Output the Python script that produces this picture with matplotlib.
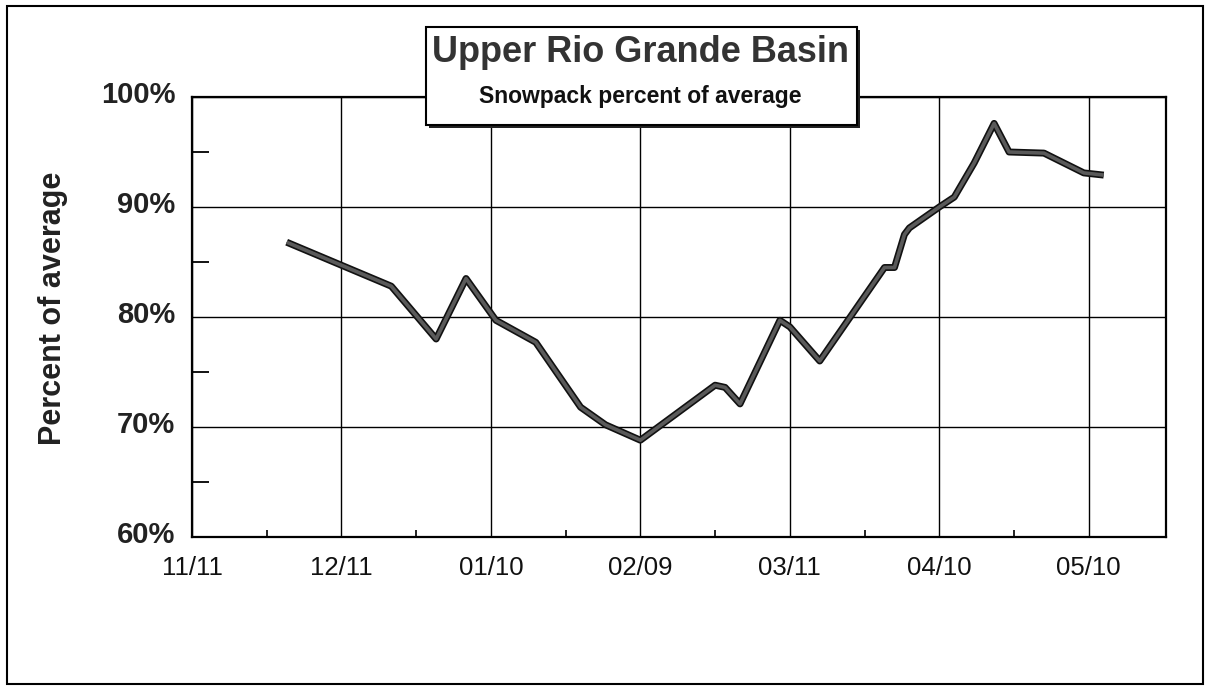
import matplotlib
matplotlib.use("Agg")
import matplotlib.pyplot as plt
import matplotlib.dates as mdates
import matplotlib.patheffects as pe
from matplotlib.patches import Rectangle
from matplotlib.transforms import ScaledTranslation
import pandas as pd

# ---- data ----
dates = ['2009-11-30', '2009-12-21', '2009-12-30', '2010-01-05', '2010-01-11',
         '2010-01-19', '2010-01-28', '2010-02-02', '2010-02-09', '2010-02-24',
         '2010-02-26', '2010-03-01', '2010-03-09', '2010-03-11', '2010-03-17',
         '2010-03-30', '2010-04-01', '2010-04-03', '2010-04-04', '2010-04-10',
         '2010-04-13', '2010-04-17', '2010-04-21', '2010-04-24', '2010-05-01',
         '2010-05-09', '2010-05-13']
percent = [86.8, 82.8, 78.0, 83.5, 79.7,
           77.7, 71.8, 70.2, 68.8, 73.8,
           73.6, 72.1, 79.7, 79.1, 76.0,
           84.5, 84.5, 87.5, 88.1, 90.0,
           90.9, 94.0, 97.6, 95.0, 94.9,
           93.1, 92.9]
major_dates = ['2009-11-11', '2009-12-11', '2010-01-10', '2010-02-09',
               '2010-03-11', '2010-04-10', '2010-05-10']
major_labels = ['11/11', '12/11', '01/10', '02/09', '03/11', '04/10', '05/10']
minor_dates = ['2009-11-26', '2009-12-26', '2010-01-25', '2010-02-24',
               '2010-03-26', '2010-04-25']
y_major = [60, 70, 80, 90, 100]
y_labels = ['60%', '70%', '80%', '90%', '100%']
y_minor = [65, 75, 85, 95]
x_start = '2009-11-11'
x_end = '2010-05-25 12:00'
title = 'Upper Rio Grande Basin'
subtitle = 'Snowpack percent of average'
ylabel = 'Percent of average'

plt.rcParams['font.family'] = ['Liberation Sans', 'DejaVu Sans']

W, H = 1207, 686
fig = plt.figure(figsize=(W / 100, H / 100), dpi=100)
fig.patch.set_facecolor('white')

ax = fig.add_axes([192 / W, 1 - 537 / H, (1166 - 192) / W, (537 - 97) / H])

x = pd.to_datetime(dates)
ax.plot(x, percent, color='#5a5a5a', lw=2.6, solid_joinstyle='round',
        solid_capstyle='butt', zorder=5,
        path_effects=[pe.Stroke(linewidth=5.0, foreground='#111111'), pe.Normal()])

ax.set_xlim(pd.Timestamp(x_start), pd.Timestamp(x_end))
ax.set_ylim(60, 100)

ax.set_xticks(pd.to_datetime(major_dates))
ax.set_xticklabels(major_labels)
ax.set_xticks(pd.to_datetime(minor_dates), minor=True)
ax.set_yticks(y_major)
ax.set_yticklabels(y_labels)
ax.set_yticks(y_minor, minor=True)

ax.grid(True, which='major', color='black', lw=1.0)
ax.set_axisbelow(True)
for s in ax.spines.values():
    s.set_linewidth(1.6)
    s.set_color('black')

ax.tick_params(axis='x', which='major', direction='in', length=0, pad=14,
               labelsize=18.5, colors='#111111')
ax.tick_params(axis='x', which='minor', direction='in', length=5, width=1.2)
ax.tick_params(axis='y', which='major', direction='in', length=0, pad=12,
               labelsize=21, colors='#222222')
ax.tick_params(axis='y', which='minor', direction='in', length=12, width=1.3)
for lab in ax.get_yticklabels():
    lab.set_fontweight('bold')

fig.text(53 / W, 1 - 308 / H, ylabel, rotation=90, ha='center', va='center',
         fontsize=22, fontweight='bold', color='#222222')

# title box with shadow
bx0, bx1, by0, by1 = 426, 857, 27, 125
fig.patches.append(Rectangle((bx0 / W + 3 / W, 1 - by1 / H - 3 / H),
                             (bx1 - bx0) / W, (by1 - by0) / H,
                             transform=fig.transFigure, facecolor='#222222',
                             edgecolor='none', zorder=10))
fig.patches.append(Rectangle((bx0 / W, 1 - by1 / H), (bx1 - bx0) / W,
                             (by1 - by0) / H, transform=fig.transFigure,
                             facecolor='white', edgecolor='black', lw=1.5,
                             zorder=11))
fig.text(640 / W, 1 - 62 / H, title, ha='center', va='baseline', fontsize=26,
         fontweight='bold', color='#333333', zorder=12)
fig.text(640 / W, 1 - 103 / H, subtitle, ha='center', va='baseline',
         fontsize=16.5, fontweight='bold', color='#111111', zorder=12)

# outer frame
fig.patches.append(Rectangle((7 / W, 2 / H), (1203 - 7) / W, (684 - 6) / H,
                             transform=fig.transFigure, facecolor='none',
                             edgecolor='black', lw=1.5, zorder=1))

off = ScaledTranslation(0, 5 / 100, fig.dpi_scale_trans)
for t in ax.yaxis.get_major_ticks():
    t.label1.set_transform(t.label1.get_transform() + off)

fig.savefig('out.png', dpi=100, facecolor='white')
